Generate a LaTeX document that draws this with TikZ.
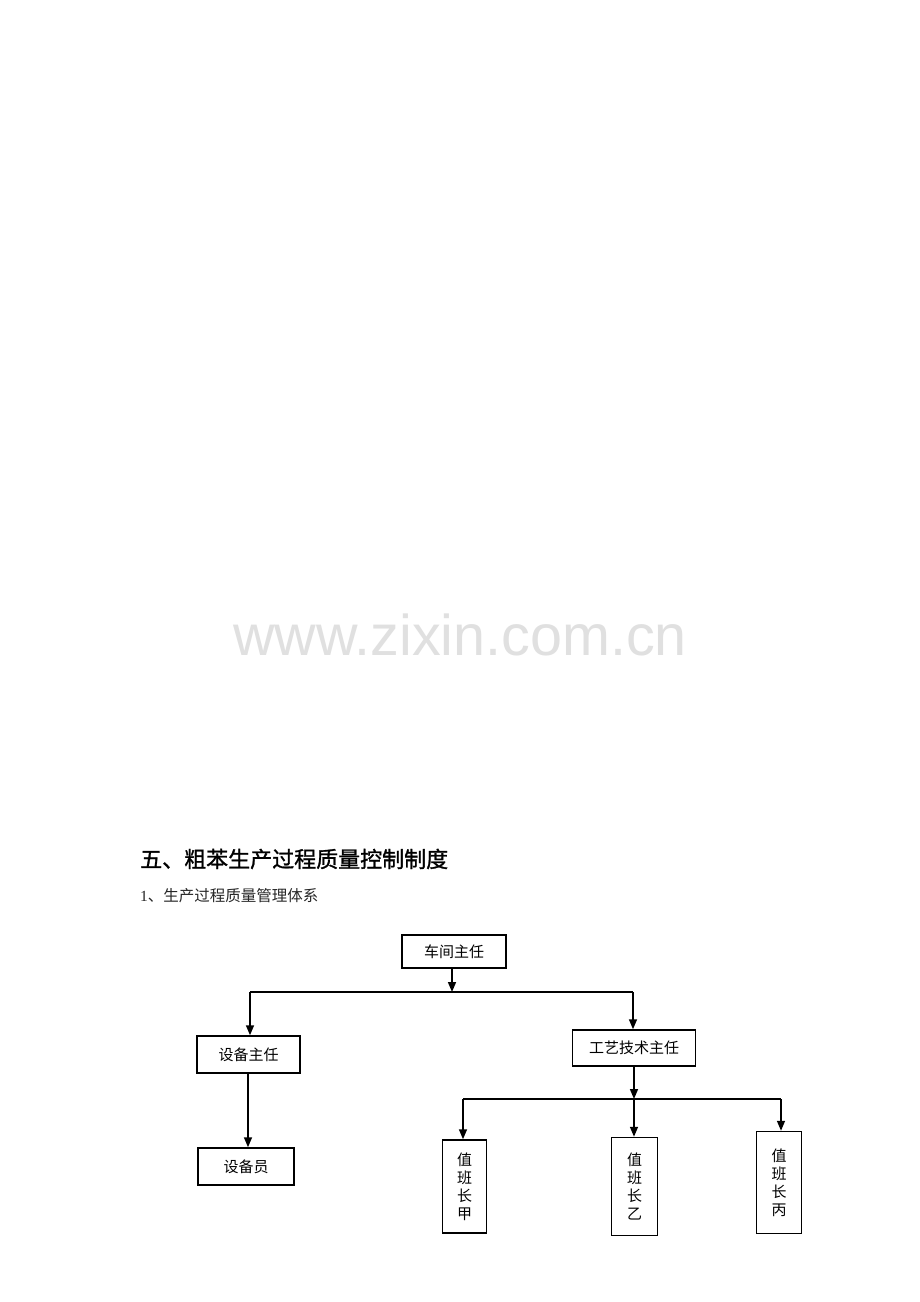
\documentclass[tikz,border=0pt]{standalone}
\usepackage{fontspec}
\newfontfamily\cjk{Noto Sans CJK SC}
\newfontfamily\cjkhead[FakeBold=1.2]{Noto Sans CJK SC}
\newfontfamily\wmfont{Liberation Sans}
\newfontfamily\numfont{Liberation Serif}
\usetikzlibrary{arrows.meta}
\tikzset{
  box/.style={
    rectangle,
    draw=black,
    line width=1.5pt,
    inner sep=0pt,
    font=\cjk\fontsize{15}{17}\selectfont
  },
  duty/.style={
    box,
    align=center,
    execute at begin node=\setlength{\baselineskip}{18pt}
  }
}
\tikzstyle{arrow} = [->, > = {Triangle[length=10pt,width=8pt]}, line width=1.5pt]
\tikzstyle{bus} = [line width=1.5pt]

\begin{document}
\begin{tikzpicture}[x=1pt, y=-1pt]
    \fill[white] (0,0) rectangle (920,1302);
    \useasboundingbox (0,0) rectangle (920,1302);
    % watermark and headings
    \node[text=black!12, font=\wmfont\fontsize{57.5}{60}\selectfont] (wm) at (460,635) {www.zixin.com.cn};
    \node[anchor=west, inner sep=0pt, font=\cjkhead\fontsize{22}{26}\selectfont] (title) at (140,859) {五、粗苯生产过程质量控制制度};
    \node[anchor=west, inner sep=0pt, text=black!85, font=\cjk\fontsize{15.5}{18}\selectfont] (sub) at (140,896) {{\numfont 1}、生产过程质量管理体系};
    % boxes
    \node[box, minimum width=104pt, minimum height=33pt] (cj) at (454,951.5) {车间主任};
    \node[box, minimum width=103pt, minimum height=37pt] (sbzr) at (248.5,1054.5) {设备主任};
    \node[box, minimum width=123pt, minimum height=36pt] (gy) at (634,1048) {工艺技术主任};
    \node[box, minimum width=96pt, minimum height=37pt] (sby) at (246,1166.5) {设备员};
    \node[duty, minimum width=44pt, minimum height=93pt] (jia) at (464.5,1186.5) {值\\班\\长\\甲};
    \node[duty, minimum width=46pt, minimum height=98pt] (yi) at (634.5,1186.5) {值\\班\\长\\乙};
    \node[duty, minimum width=45pt, minimum height=102pt] (bing) at (779,1182.5) {值\\班\\长\\丙};
    % connectors
    \coordinate (busL) at (250,992);
    \coordinate (busR) at (633,992);
    \coordinate (busM) at (452,992);
    \coordinate (sbx) at (248,1073);
    \coordinate (bus2L) at (463,1099);
    \coordinate (bus2M) at (634,1099);
    \coordinate (bus2R) at (781,1099);
    \draw[bus] (busL) -- (busR);
    \draw[bus] (bus2L) -- (bus2R);
    \draw[arrow] (cj.south -| busM) -- (busM);
    \draw[arrow] (busL) -- (busL |- sbzr.north);
    \draw[arrow] (busR) -- (busR |- gy.north);
    \draw[arrow] (sbx) -- (sbx |- sby.north);
    \draw[arrow] (gy.south -| bus2M) -- (bus2M);
    \draw[arrow] (bus2L) -- (bus2L |- jia.north);
    \draw[arrow] (bus2M) -- (bus2M |- yi.north);
    \draw[arrow] (bus2R) -- (bus2R |- bing.north);
\end{tikzpicture}
\end{document}
